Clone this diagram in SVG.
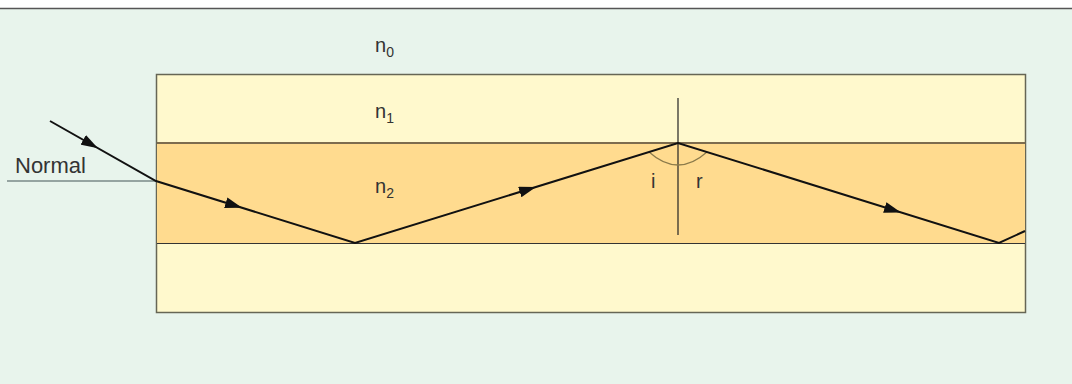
<svg xmlns="http://www.w3.org/2000/svg" width="1072" height="384" viewBox="0 0 1072 384">
<defs>
<style>
.lbl{font-family:"Liberation Sans",Arial,sans-serif;font-size:20px;fill:#333}
.sub{font-size:14px}
.ray{fill:none;stroke:#111;stroke-width:2}
.ah{fill:none;stroke:none}
</style>
<marker id="ah" viewBox="0 0 17 11" refX="17" refY="5.5" markerWidth="17" markerHeight="11" markerUnits="userSpaceOnUse" orient="auto">
<path d="M0,0 L17,5.5 L0,11 z" fill="#111"/>
</marker>
</defs>
<rect x="0" y="0" width="1072" height="384" fill="#E8F4EC"/>
<rect x="0" y="0" width="1072" height="8" fill="#ffffff"/>
<line x1="0" y1="8.5" x2="1072" y2="8.5" stroke="#555" stroke-width="1.5"/>
<g id="fiber">
<rect x="156.5" y="74.5" width="869" height="238" fill="#FFF9CD" stroke="#666655" stroke-width="1.5"/>
<rect x="157" y="143" width="868" height="100" fill="#FFDB8F"/>
<line x1="157" y1="143" x2="1025" y2="143" stroke="#7D6C4E" stroke-width="2"/>
<line x1="157" y1="243.5" x2="1025" y2="243.5" stroke="#333" stroke-width="1.2"/>
</g>
<g id="labels">
<text class="lbl" x="375" y="52">n<tspan class="sub" dy="5">0</tspan></text>
<text class="lbl" x="375" y="118">n<tspan class="sub" dy="5">1</tspan></text>
<text class="lbl" x="375" y="193">n<tspan class="sub" dy="5">2</tspan></text>
<text class="lbl" x="15" y="173" style="font-size:22px">Normal</text>
<text class="lbl" x="651" y="188">i</text>
<text class="lbl" x="696" y="188">r</text>
</g>
<g id="connectors">
<line x1="7" y1="181" x2="156" y2="181" stroke="#7A8A88" stroke-width="1.5"/>
<line x1="678" y1="98" x2="678" y2="235" stroke="#222" stroke-width="1.2"/>
<path d="M649,152 Q678,178 707,152" fill="none" stroke="#8B7A4A" stroke-width="1.2"/>
<polyline class="ray" points="50,121 156,181 355,243 678,143 999,243 1025,231"/>
<path class="ah" d="M80,138 L98,148.2" marker-end="url(#ah)"/>
<path class="ah" d="M220,200.9 L242,207.8" marker-end="url(#ah)"/>
<path class="ah" d="M510,195 L536,187" marker-end="url(#ah)"/>
<path class="ah" d="M880,205.9 L901,212.5" marker-end="url(#ah)"/>
</g>
</svg>
